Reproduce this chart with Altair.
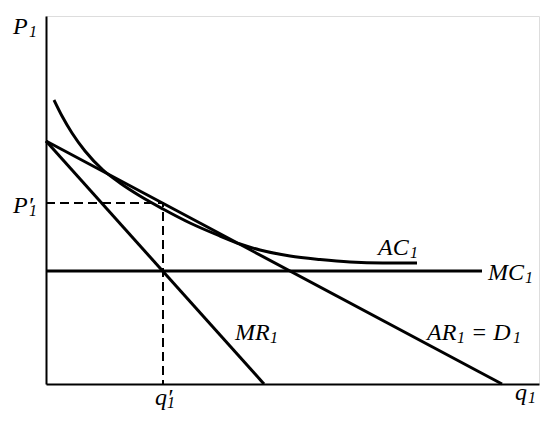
import altair as alt
import pandas as pd

# Plot-area units: q from 0 to 493, P from 0 to 368
Q_MAX = 493
P_MAX = 368

# Straight curves (two end points each)
line_names = ["AR", "AR", "MR", "MR", "MC", "MC"]
line_q = [0, 456, 0, 218, 0, 436]
line_p = [243, 0, 243, 0, 113, 113]

# Average cost curve
ac_q = [8, 16, 26, 39, 57, 74, 94, 117, 144, 174, 194, 214, 244, 274, 304, 337, 371]
ac_p = [284, 268, 251, 233, 214, 201, 188, 175, 161, 148, 140, 134, 128, 124.5, 122, 121, 121]

# Dashed guide lines at q' and P'
q_prime = 117
p_prime = 181
dash_q = [0, q_prime, q_prime]
dash_p = [p_prime, p_prime, 0]
dash_order = [0, 1, 2]

# Labels (main text and subscripts)
lab_text = ["P", "P\u2032", "q\u2032", "q", "AC", "MC", "MR", "AR", "= D"]
lab_q = [-33, -33, 109, 469, 332, 442, 189, 381, 425]
lab_p = [350, 171, -21, -16, 129, 104, 44, 44, 44]

sub_text = ["1", "1", "1", "1", "1", "1", "1", "1", "1"]
sub_q = [-17, -17, 121, 482, 364, 479, 224, 411, 467]
sub_p = [347, 168, -24, -19, 126, 101, 41, 41, 41]

lines_df = pd.DataFrame({"name": line_names, "q": line_q, "p": line_p})
ac_df = pd.DataFrame({"q": ac_q, "p": ac_p})
dash_df = pd.DataFrame({"q": dash_q, "p": dash_p, "o": dash_order})
lab_df = pd.DataFrame({"t": lab_text, "q": lab_q, "p": lab_p})
sub_df = pd.DataFrame({"t": sub_text, "q": sub_q, "p": sub_p})

FONT = "Liberation Serif"

xs = alt.Scale(domain=[0, Q_MAX], nice=False, zero=False)
ys = alt.Scale(domain=[0, P_MAX], nice=False, zero=False)
ax = alt.Axis(domain=True, ticks=False, labels=False, grid=False, title="",
              domainColor="black", domainWidth=2)

X = alt.X("q:Q", scale=xs, axis=ax)
Y = alt.Y("p:Q", scale=ys, axis=ax)

straight = alt.Chart(lines_df).mark_line(color="black", strokeWidth=3).encode(
    x=X, y=Y, detail="name:N",
)

ac = alt.Chart(ac_df).mark_line(color="black", strokeWidth=3, interpolate="monotone").encode(
    x=X, y=Y,
)

dash = alt.Chart(dash_df).mark_line(color="black", strokeWidth=2, strokeDash=[9, 5]).encode(
    x=X, y=Y, order="o:Q",
)

labels = alt.Chart(lab_df).mark_text(
    font=FONT, fontStyle="italic", fontSize=24, align="left", color="black"
).encode(x=X, y=Y, text="t:N", yOffset=alt.value(-7))

subs = alt.Chart(sub_df).mark_text(
    font=FONT, fontStyle="italic", fontSize=16, align="left", color="black"
).encode(x=X, y=Y, text="t:N", yOffset=alt.value(-5))

chart = alt.layer(straight, ac, dash, labels, subs).properties(
    width=Q_MAX, height=P_MAX,
    padding={"left": 38, "top": 8, "right": 3, "bottom": 30},
    autosize="none",
)

chart.save("out.html", embed_options={"renderer": "svg", "actions": False})
